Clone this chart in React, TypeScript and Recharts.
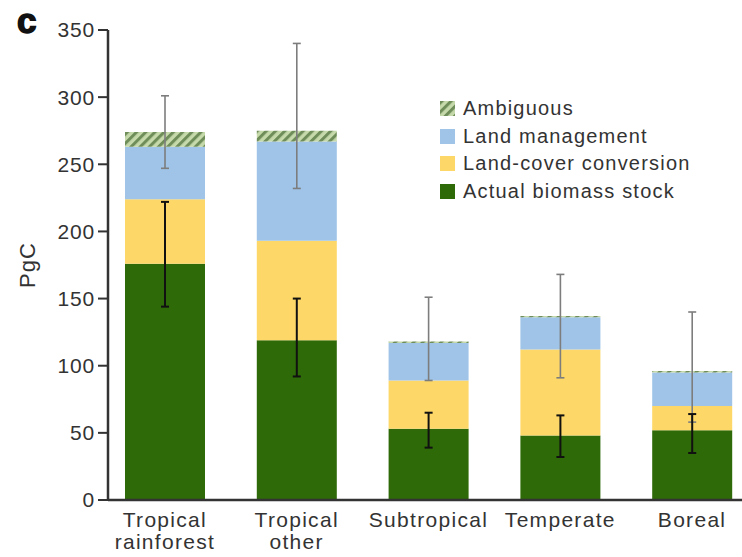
import { BarChart, Bar, XAxis, YAxis, ErrorBar, Legend } from "recharts"

const categories = ["Tropical rainforest", "Tropical other", "Subtropical", "Temperate", "Boreal"]

// stacked components, PgC
const actualStock = [176, 119, 53, 48, 52]
const landCoverConversion = [48, 74, 36, 64, 18]
const landManagement = [39, 74, 28, 24, 25]
const ambiguous = [11, 8, 1, 1, 1]

// uncertainty ranges [low, high], PgC
const stockRange = [[144, 222], [92, 150], [39, 65], [32, 63], [35, 64]]
const totalRange = [[247, 301], [232, 340], [89, 151], [91, 168], [58, 140]]

const yTicks = [0, 50, 100, 150, 200, 250, 300, 350]

const GREEN = "#2f6a08"
const YELLOW = "#fdd767"
const BLUE = "#9fc4e7"
const INK = "#333333"
const FONT = "'Liberation Sans', Arial, Helvetica, sans-serif"

const data = categories.map((name, i) => {
    const total = actualStock[i] + landCoverConversion[i] + landManagement[i] + ambiguous[i]
    return {
        name,
        actual: actualStock[i],
        conversion: landCoverConversion[i],
        management: landManagement[i],
        ambiguous: ambiguous[i],
        // both whiskers hang off the top of the stack, so offsets are relative to the total
        stockErr: [total - stockRange[i][0], stockRange[i][1] - total],
        totalErr: [total - totalRange[i][0], totalRange[i][1] - total],
    }
})

const legendItems = [
    { name: "Ambiguous", fill: "url(#hatch)" },
    { name: "Land management", fill: BLUE },
    { name: "Land-cover conversion", fill: YELLOW },
    { name: "Actual biomass stock", fill: GREEN },
]

function CategoryTick({ x, y, payload }: any) {
    const lines = String(payload.value).split(" ")
    return (
        <text x={x} y={y} textAnchor="middle" fill={INK} fontFamily={FONT} fontSize={21} letterSpacing={1.3}>
            {lines.map((line, i) => (
                <tspan key={line} x={x} dy={i === 0 ? 27 : 22}>{line}</tspan>
            ))}
        </text>
    )
}

function LegendBox() {
    return (
        <div style={{ fontFamily: FONT, fontSize: 20, letterSpacing: 1.2, color: INK }}>
            {legendItems.map((item) => (
                <div key={item.name} style={{ display: "flex", alignItems: "center", height: 27.5 }}>
                    <svg width={15} height={15} style={{ marginRight: 8 }}>
                        <rect width={15} height={15} fill={item.fill} />
                    </svg>
                    <span>{item.name}</span>
                </div>
            ))}
        </div>
    )
}

function YLabel() {
    return (
        <text x={27} y={265} transform="rotate(-90, 27, 265)" textAnchor="middle" dominantBaseline="central"
            fill={INK} fontFamily={FONT} fontSize={22} letterSpacing={1}>
            PgC
        </text>
    )
}

export default function App() {
    return (
        <div style={{ position: "absolute", left: 0, top: 0, width: 742, height: 557, background: "#fff" }}>
            <div style={{
                position: "absolute", left: 17, top: 3, fontFamily: FONT, fontWeight: 700, fontSize: 35,
                lineHeight: 1, color: "#111", WebkitTextStroke: "1.5px #111",
            }}>
                c
            </div>
            <BarChart width={742} height={557} data={data} margin={{ top: 30, right: 0, bottom: 0, left: 0 }}>
                <defs>
                    <pattern id="hatch" patternUnits="userSpaceOnUse" width={6.5} height={6.5} patternTransform="rotate(45)">
                        <rect width={6.5} height={6.5} fill="#c5d9aa" />
                        <rect width={3} height={6.5} fill="#6e8d58" />
                    </pattern>
                </defs>
                <XAxis
                    dataKey="name"
                    height={57}
                    padding={{ left: -9, right: -16 }}
                    axisLine={{ stroke: INK, strokeWidth: 2.5 }}
                    tickLine={false}
                    tickSize={0}
                    tickMargin={0}
                    interval={0}
                    tick={<CategoryTick />}
                />
                <YAxis
                    width={108}
                    domain={[0, 350]}
                    ticks={yTicks}
                    interval={0}
                    axisLine={{ stroke: INK, strokeWidth: 2.5 }}
                    tickLine={{ stroke: INK, strokeWidth: 2 }}
                    tickSize={10}
                    tickMargin={3}
                    tick={{ fill: INK, fontFamily: FONT, fontSize: 21, letterSpacing: 0.8 }}
                    label={<YLabel />}
                />
                <Legend
                    layout="vertical"
                    align="center"
                    verticalAlign="middle"
                    wrapperStyle={{ top: 95, left: 440, width: 300 }}
                    content={<LegendBox />}
                />
                <Bar dataKey="actual" stackId="a" fill={GREEN} barSize={80} isAnimationActive={false} />
                <Bar dataKey="conversion" stackId="a" fill={YELLOW} barSize={80} isAnimationActive={false} />
                <Bar dataKey="management" stackId="a" fill={BLUE} barSize={80} isAnimationActive={false} />
                <Bar dataKey="ambiguous" stackId="a" fill="url(#hatch)" barSize={80} isAnimationActive={false}>
                    <ErrorBar dataKey="totalErr" width={4} stroke="#7d7d7d" strokeWidth={1.6} />
                    <ErrorBar dataKey="stockErr" width={4} stroke="#111" strokeWidth={2} />
                </Bar>
            </BarChart>
        </div>
    )
}
